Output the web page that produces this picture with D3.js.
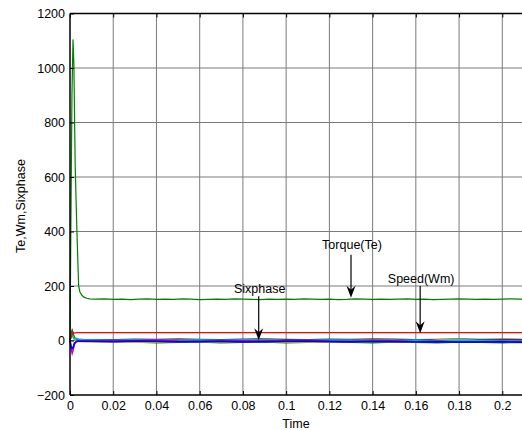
<!DOCTYPE html>
<html lang="en">
	<head>
		<meta charset="utf-8">
		<title>Te, Wm, Sixphase vs Time</title>
		<script src="https://d3js.org/d3.v7.min.js"></script>
		<style type="text/css">
			body { margin: 0; background: #fff; }
			text { font-family: "Liberation Sans", Arial, sans-serif; font-size: 12.5px; fill: #000; }
		</style>
	</head>
	<body>
		<script type="text/javascript">
			//Size of the picture and of the plot box
			var width = 522;
			var height = 430;
			var margin = { left: 70, top: 13.5, bottom: 35 };
			var h = height - margin.top - margin.bottom;

			//Tick values
			var xTicks = [0, 0.02, 0.04, 0.06, 0.08, 0.1, 0.12, 0.14, 0.16, 0.18, 0.2];
			var yTicks = [-200, 0, 200, 400, 600, 800, 1000, 1200];

			//Torque (Te): start-up spike then steady state
			var torqueTime = [0, 0.0004, 0.0009, 0.0014, 0.0018, 0.0024, 0.0032, 0.004, 0.0046, 0.0055, 0.0065, 0.0078, 0.009,
				0.012, 0.016, 0.02, 0.024, 0.028, 0.032, 0.036, 0.04, 0.044, 0.048, 0.052, 0.056, 0.06, 0.064, 0.068,
				0.072, 0.076, 0.08, 0.084, 0.088, 0.092, 0.096, 0.1, 0.104, 0.108, 0.112, 0.116, 0.12, 0.124, 0.128,
				0.132, 0.136, 0.14, 0.144, 0.148, 0.152, 0.156, 0.16, 0.164, 0.168, 0.172, 0.176, 0.18, 0.184, 0.188,
				0.192, 0.196, 0.2, 0.204, 0.208, 0.212];
			var torque = [0, 420, 900, 1105, 1010, 640, 400, 200, 178, 166, 159, 155, 153,
				152, 153, 151, 152, 150, 152, 153, 151, 152, 151, 153, 152, 150, 151, 152,
				151, 153, 152, 151, 150, 152, 151, 152, 151, 153, 152, 151, 152, 150, 151,
				153, 152, 151, 152, 151, 152, 153, 151, 152, 150, 151, 152, 153, 152, 151,
				152, 151, 152, 153, 152, 151];

			//Speed (Wm) and the six phase signals share one time base
			var smallTime = [0, 0.0005, 0.001, 0.0015, 0.002, 0.003, 0.004, 0.006, 0.01, 0.02, 0.03, 0.04, 0.05, 0.06,
				0.07, 0.08, 0.09, 0.1, 0.11, 0.12, 0.13, 0.14, 0.15, 0.16, 0.17, 0.18, 0.19, 0.2, 0.21, 0.22];
			var speed = [0, 12, 24, 30, 27, 29, 29, 29, 29, 29, 29, 29, 29, 29, 29, 29, 29, 29, 29, 29, 29, 29, 29, 29, 29, 29, 29, 29, 29, 29];
			var phaseA = [0, -20, -30, -25, -10, -4, -3, -3, -3, -4, -2, -3, -5, -4, -3, -5, -4, -3, -2, -4, -5, -3, -4, -5, -4, -6, -5, -5, -6, -6];
			var phaseB = [0, -30, -48, -35, -15, -3, 0, -1, -2, -1, 0, 2, -2, -3, -1, 0, -2, -1, 1, -2, -3, -2, -1, -4, -3, -5, -4, -3, -4, -4];
			var phaseC = [0, 15, 22, 10, 5, 8, 4, 3, 2, 0, 3, 1, -1, 2, 0, 3, 1, -1, 0, 2, 1, -2, 0, 1, -1, 2, 0, -1, -2, -2];
			var phaseD = [0, 10, 20, 12, 5, -2, -4, -5, -6, -5, -7, -6, -4, -5, -6, -3, -4, -6, -5, -7, -4, -3, -5, -6, 2, 5, -3, -4, -5, -5];
			var phaseE = [0, 25, 35, 20, 10, 5, 2, 0, -3, -5, -6, -8, -7, -6, -8, -7, -6, -8, -7, -6, -7, -8, -6, -7, -8, -6, -7, -8, -7, -7];
			var phaseF = [0, 20, 37, 25, 10, 6, 5, 4, 3, 3, 5, 4, 6, 4, 3, 5, 6, 4, 3, 5, 4, 6, 5, 3, 4, 6, 4, 5, 4, 4];

			//Arrow annotations: label, time, text value, tail value, tip value
			var notes = [
				{ label: "Torque(Te)", t: 0.13, text: 337, tail: 315, tip: 157 },
				{ label: "Speed(Wm)", t: 0.162, text: 212, tail: 200, tip: 27 },
				{ label: "Sixphase", t: 0.0873, text: 176, tail: 162, tip: 1 }
			];

			var x = d3.scaleLinear()
				.domain([0, 0.22])
				.range([0, 11 * 43.23]);

			var y = d3.scaleLinear()
				.domain([-200, 1200])
				.range([h, 0]);

			var svg = d3.select("body")
				.append("svg")
					.attr("width", width)
					.attr("height", height)
				.append("g")
					.attr("transform", "translate(" + margin.left + "," + margin.top + ")");

			var plotW = width - margin.left;

			//Grid
			svg.append("g")
				.selectAll("line")
				.data(xTicks.slice(1))
				.enter()
				.append("line")
				.attr("x1", function(d) { return x(d); })
				.attr("x2", function(d) { return x(d); })
				.attr("y1", 0)
				.attr("y2", h)
				.attr("stroke", "#7a7a7a")
				.attr("stroke-width", 1);

			svg.append("g")
				.selectAll("line")
				.data(yTicks.slice(1, -1))
				.enter()
				.append("line")
				.attr("x1", 0)
				.attr("x2", plotW)
				.attr("y1", function(d) { return y(d); })
				.attr("y2", function(d) { return y(d); })
				.attr("stroke", "#7a7a7a")
				.attr("stroke-width", 1);

			//Lines
			var line = d3.line()
				.x(function(d) { return x(d[0]); })
				.y(function(d) { return y(d[1]); });

			function draw(times, values, color, sw) {
				svg.append("path")
					.datum(d3.zip(times, values))
					.attr("d", line)
					.attr("fill", "none")
					.attr("stroke", color)
					.attr("stroke-width", sw);
			}

			draw(smallTime, phaseF, "#404040", 1.4);
			draw(smallTime, phaseE, "#008000", 1.4);
			draw(smallTime, phaseD, "#bfbf00", 1.4);
			draw(smallTime, phaseC, "#00bfbf", 1.4);
			draw(smallTime, phaseB, "#bf00bf", 1.4);
			draw(smallTime, phaseA, "#0000ff", 1.6);
			draw(smallTime, speed, "#ff0000", 1.2);
			draw(torqueTime, torque, "#008000", 1.2);

			//Axes with inward ticks
			var bottomAxis = d3.axisBottom(x).tickValues(xTicks).tickSize(-4).tickPadding(6)
				.tickFormat(d3.format("~g"));
			var topAxis = d3.axisTop(x).tickValues(xTicks).tickSize(-4).tickFormat("");
			var leftAxis = d3.axisLeft(y).tickValues(yTicks).tickSize(-4).tickPadding(5)
				.tickFormat(d3.format("d"));

			var gb = svg.append("g").attr("transform", "translate(0," + h + ")").call(bottomAxis);
			var gt = svg.append("g").call(topAxis);
			var gl = svg.append("g").call(leftAxis);

			[gb, gt, gl].forEach(function(g) {
				g.selectAll(".domain").remove();
				g.selectAll("line").attr("stroke", "#000");
				g.selectAll("text")
					.attr("font-family", "Liberation Sans, Arial, sans-serif")
					.attr("font-size", "12.5px")
					.attr("fill", "#000");
			});

			svg.append("line").attr("x1", 0).attr("x2", plotW).attr("y1", h).attr("y2", h)
				.attr("stroke", "#000").attr("stroke-width", 1.5);
			svg.append("line").attr("x1", 0).attr("x2", plotW).attr("y1", 0).attr("y2", 0)
				.attr("stroke", "#000").attr("stroke-width", 1.5);
			svg.append("line").attr("x1", 0).attr("x2", 0).attr("y1", 0).attr("y2", h)
				.attr("stroke", "#000").attr("stroke-width", 1.5);

			//Axis labels
			svg.append("text")
				.attr("x", 226)
				.attr("y", h + 32.5)
				.attr("text-anchor", "middle")
				.text("Time");

			svg.append("text")
				.attr("transform", "translate(-45," + (206 - margin.top) + ") rotate(-90)")
				.attr("text-anchor", "middle")
				.text("Te,Wm,Sixphase");

			//Annotations
			var note = svg.selectAll(".note")
				.data(notes)
				.enter()
				.append("g");

			note.append("text")
				.attr("x", function(d) { return x(d.t) + 1; })
				.attr("y", function(d) { return y(d.text); })
				.attr("text-anchor", "middle")
				.text(function(d) { return d.label; });

			note.append("line")
				.attr("x1", function(d) { return x(d.t); })
				.attr("x2", function(d) { return x(d.t); })
				.attr("y1", function(d) { return y(d.tail); })
				.attr("y2", function(d) { return y(d.tip) - 6; })
				.attr("stroke", "#000")
				.attr("stroke-width", 1.2);

			note.append("path")
				.attr("d", function(d) {
					var px = x(d.t), py = y(d.tip);
					return "M" + px + "," + py + "L" + (px - 4.5) + "," + (py - 12) +
						"L" + px + "," + (py - 8) + "L" + (px + 4.5) + "," + (py - 12) + "Z";
				})
				.attr("fill", "#000");
		</script>
	</body>
</html>
